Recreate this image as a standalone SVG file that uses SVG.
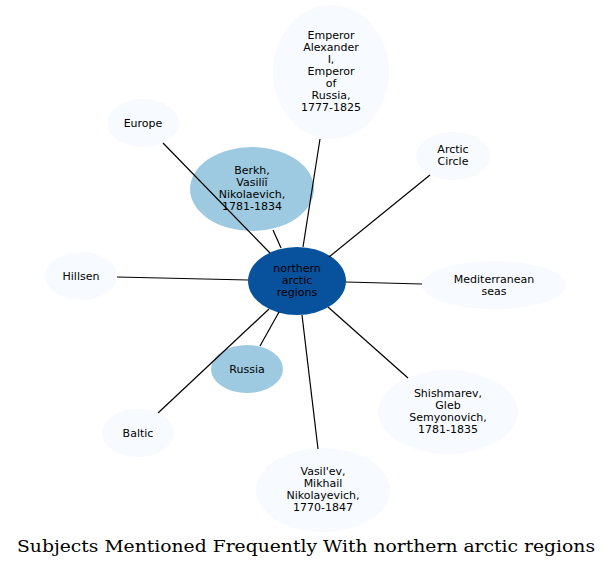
<svg xmlns="http://www.w3.org/2000/svg" width="612" height="568" viewBox="0 0 612 568">
<style>
.n text{font-family:"DejaVu Sans",sans-serif;font-size:11px;text-anchor:middle;fill:#000}
.light{fill:#f7fbff}
.mid{fill:#9ecae1}
.dark{fill:#08519c}
#edges line{stroke:#000;stroke-width:1.2}
.title{font-family:"DejaVu Serif",serif;font-size:17px;text-anchor:middle;fill:#000}
</style>
<rect width="612" height="568" fill="#fff"/>
<g id="node-emperor" class="n"><ellipse class="light" cx="331" cy="72" rx="58" ry="67"/>
<text x="331" y="39">Emperor</text><text x="331" y="51">Alexander</text><text x="331" y="63">I,</text><text x="331" y="75">Emperor</text><text x="331" y="87">of</text><text x="331" y="99">Russia,</text><text x="331" y="111">1777-1825</text></g>
<g id="node-europe" class="n"><ellipse class="light" cx="143" cy="123" rx="36" ry="24"/><text x="143" y="127">Europe</text></g>
<g id="node-arctic" class="n"><ellipse class="light" cx="453" cy="156" rx="37" ry="24"/><text x="453" y="153">Arctic</text><text x="453" y="165">Circle</text></g>
<g id="node-berkh" class="n"><ellipse class="mid" cx="252" cy="189" rx="62" ry="42"/>
<text x="252" y="174">Berkh,</text><text x="252" y="186">Vasiliĭ</text><text x="252" y="198">Nikolaevich,</text><text x="252" y="210">1781-1834</text></g>
<g id="node-hillsen" class="n"><ellipse class="light" cx="81" cy="276" rx="36" ry="24"/><text x="81" y="280">Hillsen</text></g>
<g id="node-med" class="n"><ellipse class="light" cx="494" cy="285" rx="72" ry="24"/><text x="494" y="283">Mediterranean</text><text x="494" y="295">seas</text></g>
<g id="node-russia" class="n"><ellipse class="mid" cx="247" cy="369" rx="36" ry="24"/><text x="247" y="373">Russia</text></g>
<g id="node-baltic" class="n"><ellipse class="light" cx="138" cy="433" rx="36" ry="24"/><text x="138" y="437">Baltic</text></g>
<g id="node-shishmarev" class="n"><ellipse class="light" cx="448" cy="412" rx="70" ry="42"/>
<text x="448" y="397">Shishmarev,</text><text x="448" y="409">Gleb</text><text x="448" y="421">Semyonovich,</text><text x="448" y="433">1781-1835</text></g>
<g id="node-vasilev" class="n"><ellipse class="light" cx="323" cy="490" rx="67" ry="42"/>
<text x="323" y="475">Vasil'ev,</text><text x="323" y="487">Mikhail</text><text x="323" y="499">Nikolayevich,</text><text x="323" y="511">1770-1847</text></g>
<g id="node-center" class="n"><ellipse class="dark" cx="297" cy="281" rx="49" ry="34"/>
<text x="297" y="272">northern</text><text x="297" y="284">arctic</text><text x="297" y="296">regions</text></g>
<g id="edges">
<line x1="320" y1="139" x2="303" y2="247"/>
<line x1="163" y1="143" x2="270" y2="253"/>
<line x1="430" y1="175" x2="329" y2="257"/>
<line x1="273" y1="230" x2="281" y2="248"/>
<line x1="117" y1="277" x2="248" y2="280"/>
<line x1="346" y1="282" x2="422" y2="284"/>
<line x1="260" y1="346" x2="279" y2="312"/>
<line x1="158" y1="413" x2="269" y2="309"/>
<line x1="408" y1="378" x2="328" y2="307"/>
<line x1="318" y1="449" x2="302" y2="315"/>
</g>
<text class="title" x="306" y="552" textLength="578" lengthAdjust="spacingAndGlyphs">Subjects Mentioned Frequently With northern arctic regions</text>
</svg>
